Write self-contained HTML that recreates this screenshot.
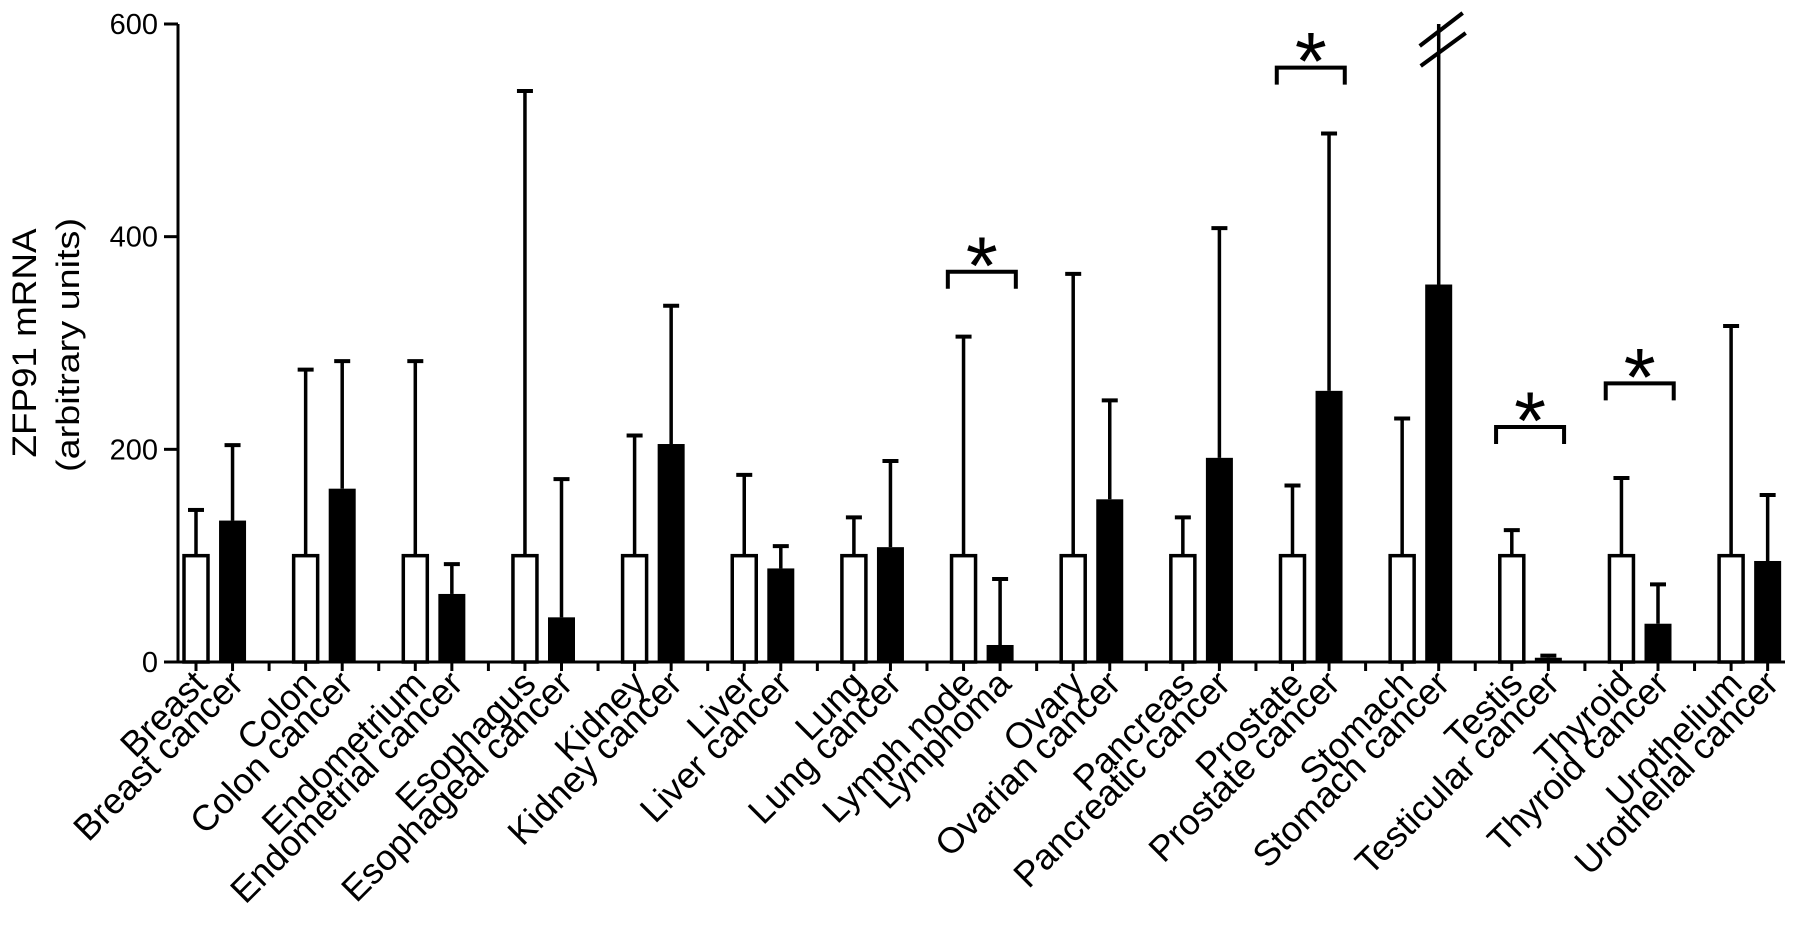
<!DOCTYPE html>
<html><head><meta charset="utf-8"><style>
html,body{margin:0;padding:0;background:#fff;}
svg{display:block;font-family:"Liberation Sans",Arial,sans-serif;}
</style></head><body>
<svg id="chart" width="1795" height="934" viewBox="0 0 1795 934" xmlns="http://www.w3.org/2000/svg">
<g id="yaxis"></g>
<g id="bars"></g>
<g id="xaxis"></g>
<g id="sig"></g>
<text transform="translate(36,343) rotate(-90)" text-anchor="middle" font-size="34" textLength="229" lengthAdjust="spacingAndGlyphs">ZFP91 mRNA</text>
<text transform="translate(79,345) rotate(-90)" text-anchor="middle" font-size="32" textLength="254" lengthAdjust="spacingAndGlyphs">(arbitrary units)</text>
</svg>
<script>
const tissues = ["Breast","Colon","Endometrium","Esophagus","Kidney","Liver","Lung","Lymph node","Ovary","Pancreas","Prostate","Stomach","Testis","Thyroid","Urothelium"];
const cancers = ["Breast cancer","Colon cancer","Endometrial cancer","Esophageal cancer","Kidney cancer","Liver cancer","Lung cancer","Lymphoma","Ovarian cancer","Pancreatic cancer","Prostate cancer","Stomach cancer","Testicular cancer","Thyroid cancer","Urothelial cancer"];
const normalMean = [100,100,100,100,100,100,100,100,100,100,100,100,100,100,100];
const normalErr = [143,275,283,537,213,176,136,306,365,136,166,229,124,173,316];
const cancerMean = [133,163,64,42,205,88,108,16,153,192,255,355,4,36,95];
const cancerErr = [204,283,92,172,335,109,189,78,246,408,497,700,6,73,157];
const yTicks = [0,200,400,600];
const sigGroups = [7,10,12,13];
const sigLevels = [367,559,221,262];

const NS="http://www.w3.org/2000/svg";
const X0=196, SLOT=36.55, Y0=662, YMAX=600, YTOP=24;
const yScale=v=>Y0-(Math.min(v,YMAX)/YMAX)*(Y0-YTOP);
const xSlot=i=>X0+i*SLOT;
function mk(tag,attrs,parent){const e=document.createElementNS(NS,tag);for(const k in attrs)e.setAttribute(k,attrs[k]);parent.appendChild(e);return e;}
const gy=document.getElementById('yaxis'),gb=document.getElementById('bars'),gx=document.getElementById('xaxis'),gs=document.getElementById('sig');

// y axis
let axis=mk('line',{x1:178,y1:YTOP,x2:178,y2:Y0+1,stroke:'#000','stroke-width':3},gy);


yTicks.forEach(t=>{
  const y=yScale(t);
  const tk=mk('line',{x1:164,y1:y,x2:178,y2:y,stroke:'#000','stroke-width':3},gy);
  
  
  const lb=mk('text',{x:158,y:y+10,'text-anchor':'end','font-size':29},gy);
  
  
  lb.textContent=t;
});
// x axis line
const xl=mk('line',{x1:176.5,y1:Y0,x2:1785,y2:Y0,stroke:'#000','stroke-width':3},gx);



const BW=27;
function errBar(cx,mean,top,parent){
  const yt=yScale(top), ym=yScale(mean);
  const l=mk('line',{x1:cx,y1:ym,x2:cx,y2:yt,stroke:'#000','stroke-width':3.5},parent);
  
  
  if(top<=YMAX){
    const c=mk('line',{x1:cx-8,y1:yt,x2:cx+8,y2:yt,stroke:'#000','stroke-width':4},parent);
    
    
  }
}
for(let g=0;g<tissues.length;g++){
  const xw=xSlot(g*3), xb=xSlot(g*3+1);
  errBar(xw,normalMean[g],normalErr[g],gb);
  errBar(xb,cancerMean[g],cancerErr[g],gb);
  const yw=yScale(normalMean[g]);
  const rw=mk('rect',{x:xw-BW/2+1.5,y:yw,width:BW-3,height:Y0-yw,fill:'#fff',stroke:'#000','stroke-width':3.5},gb);
  
  
  const yb=yScale(cancerMean[g]);
  const rb=mk('rect',{x:xb-BW/2,y:yb,width:BW,height:Math.max(Y0-yb,2),fill:'#000'},gb);
  
  
  if(cancerErr[g]>YMAX){
    [[-19,46,24,13],[-18,66,27,33]].forEach(d=>{
      const br=mk('line',{x1:xb+d[0],y1:d[1],x2:xb+d[2],y2:d[3],stroke:'#000','stroke-width':4},gb);
      
      
    });
  }
}
// x ticks & labels
for(let i=0;i<tissues.length*3;i++){
  const x=xSlot(i);
  const tk=mk('line',{x1:x,y1:Y0,x2:x,y2:Y0+9,stroke:'#000','stroke-width':3},gx);
  
  
  const g=Math.floor(i/3), j=i%3;
  if(j===2) continue;
  const t=mk('text',{transform:`translate(${x+4},${677}) rotate(-45)`,'text-anchor':'end','dominant-baseline':'central','font-size':36},gx);
  
  
  t.textContent = j===0 ? tissues[g] : cancers[g];
}
// significance brackets
sigGroups.forEach((g,k)=>{
  const xa=xSlot(g*3), xb=xSlot(g*3+1), mid=(xa+xb)/2, y=yScale(sigLevels[k]);
  const p=mk('path',{d:`M${mid-34},${y+17} V${y} H${mid+34} V${y+17}`,fill:'none',stroke:'#000','stroke-width':4},gs);
  
  
  const s=mk('text',{x:mid,y:y+22,'text-anchor':'middle','font-size':82},gs);
  
  
  s.textContent='*';
});
</script>
</body></html>
